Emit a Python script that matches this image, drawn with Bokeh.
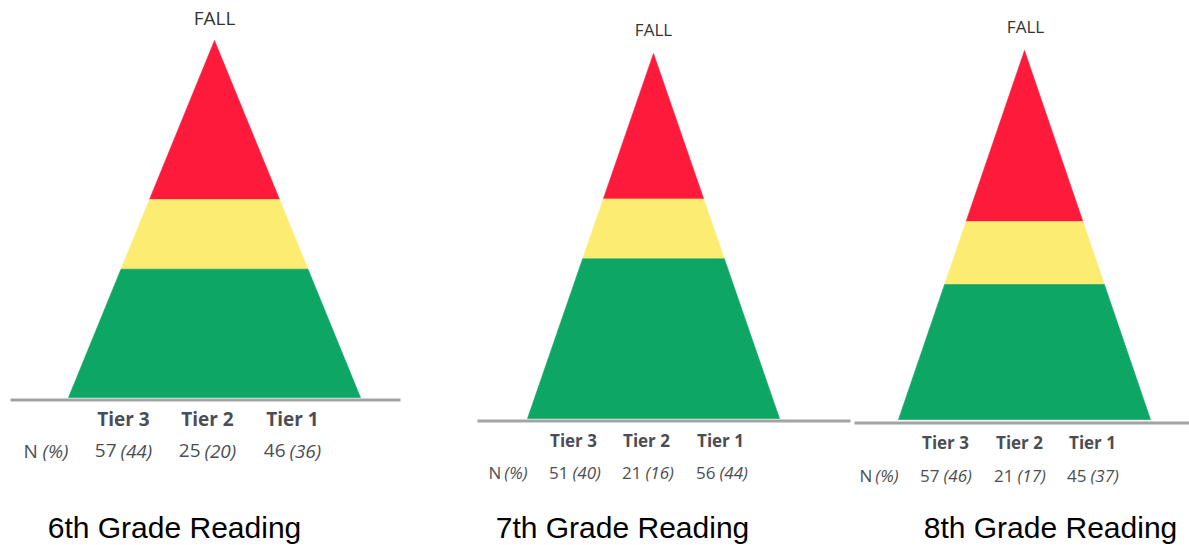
from bokeh.plotting import figure
from bokeh.models import Range1d, ColumnDataSource
from bokeh.core.properties import value
from bokeh.embed import file_html
from bokeh.resources import INLINE

# ---------------- data ----------------
grades = ["6th Grade Reading", "7th Grade Reading", "8th Grade Reading"]
season = "FALL"
tiers = ["Tier 3", "Tier 2", "Tier 1"]
tier3_n = [57, 51, 57]
tier3_pct = [44, 40, 46]
tier2_n = [25, 21, 21]
tier2_pct = [20, 16, 17]
tier1_n = [46, 56, 45]
tier1_pct = [36, 44, 37]
row_label_main = "N"
row_label_italic = "(%)"

# ---------------- layout (pixel coordinates) ----------------
tier_colors = ["#FE1A3B", "#FDEC72", "#0EA664"]
apex_x = [214, 653, 1024]
apex_y = [40, 53, 50]
base_y = [397, 418, 419]
half_w = [146, 126, 126]
line_x0 = [10, 477, 854]
line_x1 = [400, 850, 1189]
line_y = [399.5, 420.5, 422.5]
text_dy = -8
fall_x = [214, 653, 1025]
fall_base = [25, 37, 34]
fall_size = ["19px", "17px", "17px"]
col_x = [[123, 207, 292], [573, 646, 720], [945, 1019, 1092]]
tier_base = [426, 448, 450]
num_base = [458, 480, 483]
tab_size = ["19px", "17px", "17px"]
split_off = [7, 5, 6]
nlab_x0 = [23, 488, 859]
nlab_x1 = [68, 527, 898]
title_x = [174, 622, 1050]
title_base = 535

W, H = 1189, 545
p = figure(width=W, height=H, x_range=Range1d(0, W), y_range=Range1d(H, 0),
           output_backend="svg", toolbar_location=None, min_border=0,
           x_axis_location=None, y_axis_location=None)
p.xgrid.visible = False
p.ygrid.visible = False
p.outline_line_color = None
p.background_fill_color = "white"
p.border_fill_color = "white"

text_col = "#4A4E54"
font = value("Open Sans")

for i in range(3):
    counts = [tier3_n[i], tier2_n[i], tier1_n[i]]
    pcts = [tier3_pct[i], tier2_pct[i], tier1_pct[i]]
    total = sum(counts)
    h = base_y[i] - apex_y[i]
    xs, ys = [], []
    cum = 0
    for c in counts:
        f0 = cum / total
        cum += c
        f1 = cum / total
        y0 = apex_y[i] + f0 * h
        y1 = apex_y[i] + f1 * h
        xs.append([apex_x[i] - half_w[i] * f0, apex_x[i] + half_w[i] * f0,
                   apex_x[i] + half_w[i] * f1, apex_x[i] - half_w[i] * f1])
        ys.append([y0, y0, y1, y1])
    src = ColumnDataSource(dict(xs=xs, ys=ys, c=tier_colors))
    p.patches("xs", "ys", source=src, fill_color="c", line_color="c", line_width=0.6)

    # baseline
    p.segment(x0=[line_x0[i]], y0=[line_y[i]], x1=[line_x1[i]], y1=[line_y[i]],
              line_color="#A3A3A3", line_width=3)

    fy = fall_base[i] + text_dy
    ty = tier_base[i] + text_dy
    ny = num_base[i] + text_dy

    # FALL
    p.text(x=[fall_x[i]], y=[fy], text=[season], text_font=font,
           text_font_size=fall_size[i], text_align="center", text_baseline="alphabetic",
           text_color="#333333")

    # tier header
    p.text(x=col_x[i], y=[ty] * 3, text=tiers, text_font=font,
           text_font_size=tab_size[i], text_font_style="bold", text_align="center",
           text_baseline="alphabetic", text_color=text_col)

    # N (%) row
    p.text(x=[nlab_x0[i]], y=[ny], text=[row_label_main], text_font=font,
           text_font_size=tab_size[i], text_align="left", text_baseline="alphabetic",
           text_color=text_col)
    p.text(x=[nlab_x1[i]], y=[ny], text=[row_label_italic], text_font=font,
           text_font_size=tab_size[i], text_font_style="italic", text_align="right",
           text_baseline="alphabetic", text_color=text_col)
    p.text(x=[cx - split_off[i] for cx in col_x[i]], y=[ny] * 3,
           text=[str(c) for c in counts], text_font=font, text_font_size=tab_size[i],
           text_align="right", text_baseline="alphabetic", text_color=text_col)
    p.text(x=[cx - split_off[i] + 4 for cx in col_x[i]], y=[ny] * 3,
           text=["(%d)" % v for v in pcts], text_font=font, text_font_size=tab_size[i],
           text_font_style="italic", text_align="left", text_baseline="alphabetic",
           text_color=text_col)

    # title
    p.text(x=[title_x[i]], y=[title_base + text_dy], text=[grades[i]],
           text_font=value("Liberation Sans"),
           text_font_size="30px", text_align="center", text_baseline="alphabetic",
           text_color="#000000")

open("out.html", "w").write(file_html(p, INLINE))
